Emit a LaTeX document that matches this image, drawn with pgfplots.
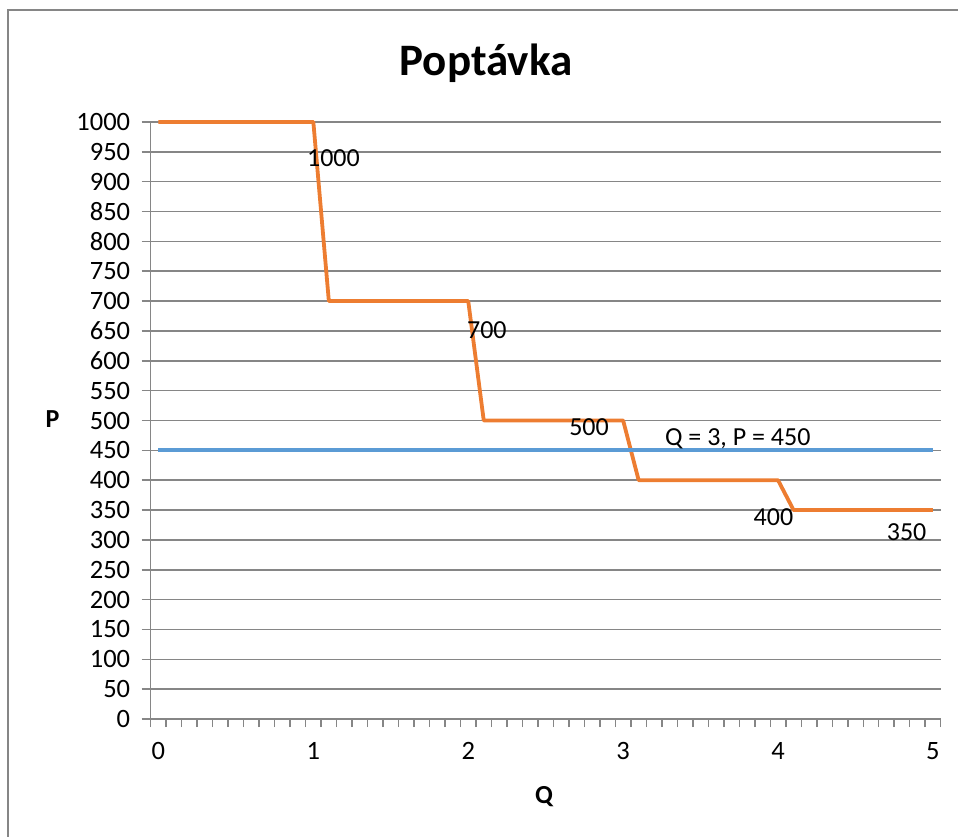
\documentclass[border=0pt]{standalone}
\usepackage{pgfplots}
\pgfplotsset{compat=1.18}
\usepackage{fontspec}
\setmainfont{Carlito}
\definecolor{gridgray}{RGB}{134,134,134}
\definecolor{orangeL}{RGB}{237,125,49}
\definecolor{blueL}{RGB}{91,155,213}
\begin{document}
\begin{tikzpicture}[x=1pt,y=1pt]
\useasboundingbox (0,0) rectangle (958,836);
\draw[gridgray, line width=1.5pt] (8,-10) -- (8,826) -- (970,826);
\node[font=\fontsize{45}{54}\selectfont\bfseries, anchor=base, inner sep=0pt] at (486,760) {Poptávka};
\node[font=\fontsize{26}{30}\selectfont\bfseries, anchor=base, inner sep=0pt] at (52.5,408) {P};
\node[font=\fontsize{26}{30}\selectfont\bfseries, anchor=base, inner sep=0pt] at (544,33) {Q};
\begin{axis}[
  at={(150.7pt,117pt)}, anchor=south west,
  scale only axis, width=790pt, height=597pt,
  xmin=-0.05, xmax=5.05, ymin=0, ymax=1000,
  axis lines=left, axis line style={-, gridgray, line width=1.5pt},
  xtick={0,1,2,3,4,5},
  minor xtick={-0.05,0.05,...,5.06},
  ytick={0,50,...,1000},
  ymajorgrids, grid style={gridgray, line width=1.5pt},
  tick align=outside, major tick length=9pt, minor tick length=8pt,
  tick style={gridgray, line width=1.5pt},
  major x tick style={draw=none},
  every tick label/.append style={font=\fontsize{26.5}{30}\selectfont},
  xticklabel style={yshift=-11pt},
  yticklabel style={xshift=-8pt},
  /pgf/number format/assume math mode=true,
  /pgf/number format/set thousands separator={},
  clip=false,
]
\addplot[orangeL, line width=3.8pt, line join=round] coordinates {
  (0,1000) (1,1000) (1.1,700) (2,700) (2.1,500) (3,500) (3.1,400) (4,400) (4.1,350) (5,350)
};
\addplot[blueL, line width=3.8pt] coordinates {(0,450) (5,450)};
\begin{scope}[every node/.style={font=\fontsize{26}{30}\selectfont, inner sep=0pt}]
\node at (axis cs:1.13,940) {1000};
\node at (axis cs:2.12,652) {700};
\node at (axis cs:2.78,489) {500};
\node at (axis cs:3.97,338) {400};
\node at (axis cs:4.83,313) {350};
\node at (axis cs:3.74,469) {Q = 3, P = 450};
\end{scope}
\end{axis}
\end{tikzpicture}
\end{document}
